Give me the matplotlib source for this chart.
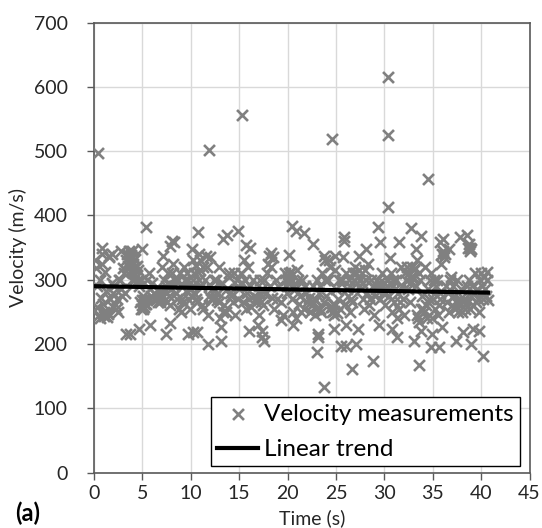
import numpy as np
import matplotlib
matplotlib.use("Agg")
import matplotlib.pyplot as plt

plt.rcParams['font.family'] = ['Lato', 'DejaVu Sans']

outliers = [(0.4, 498), (11.9, 502), (15.3, 557), (24.6, 519), (30.4, 616),
            (30.4, 526), (30.4, 414), (34.5, 457), (23.8, 133), (40.2, 181),
            (33.6, 167), (26.7, 161), (28.8, 174), (23.0, 188), (39.0, 200),
            (34.8, 195), (35.6, 195), (11.8, 200), (13.1, 205), (27.1, 200),
            (25.5, 197), (26.0, 197)]

upper = [(5.4, 382), (10.7, 375), (14.9, 376), (13.7, 369), (13.3, 364),
         (20.5, 383), (20.9, 376), (21.7, 372), (22.6, 356), (29.3, 382),
         (32.8, 380), (33.8, 368), (36.1, 364), (37.8, 366), (38.5, 370),
         (25.8, 367), (25.8, 360), (29.5, 359), (31.5, 359), (8.1, 361),
         (8.3, 359), (7.9, 352), (0.8, 349), (5.0, 348), (2.8, 344),
         (3.9, 344), (3.7, 337), (15.7, 354), (16.1, 349), (18.3, 342),
         (18.1, 337), (20.1, 338), (28.1, 348), (27.4, 337), (38.7, 356),
         (38.9, 350), (39.0, 348), (35.7, 359), (36.7, 348), (33.3, 348),
         (24.9, 337), (23.8, 337), (30.6, 334), (10.1, 348), (11.6, 337),
         (1.5, 337), (7.1, 337)]

lower = [(3.3, 216), (3.7, 216), (4.6, 224), (5.75, 230), (7.4, 216),
         (7.85, 232), (9.75, 216), (10.2, 218), (10.6, 219), (13.1, 227),
         (16.0, 221), (17.4, 221), (17.4, 211), (17.6, 205), (19.3, 238),
         (20.6, 230), (23.1, 216), (23.1, 211), (24.75, 224), (26.0, 230),
         (27.25, 224), (29.4, 230), (30.8, 224), (31.3, 211), (33.1, 205),
         (33.8, 221), (34.9, 216), (36.0, 227), (37.4, 205), (38.1, 219),
         (39.75, 221), (39.2, 224)]

band = [(0.0, 251), (0.1, 330), (0.2, 318), (0.3, 290), (0.5, 245), (0.6, 300),
        (0.7, 272), (0.8, 340), (0.9, 248), (0.95, 262),
        (1.0, 243), (1.1, 312), (1.2, 283), (1.3, 250), (1.4, 246), (1.6, 335),
        (1.7, 270), (1.9, 295), (1.95, 258),
        (2.0, 280), (2.2, 262), (2.3, 255), (2.5, 250), (2.6, 300), (2.8, 285),
        (2.9, 275),
        (3.0, 318), (3.1, 310), (3.3, 330), (3.5, 322), (3.6, 345), (3.7, 330),
        (3.8, 315), (3.9, 300), (3.95, 335),
        (4.0, 325), (4.1, 310), (4.2, 320), (4.3, 305), (4.4, 298), (4.5, 315),
        (4.6, 290), (4.8, 265), (4.9, 300),
        (5.0, 260), (5.1, 255), (5.2, 268), (5.3, 262), (5.5, 300), (5.7, 310),
        (5.8, 285), (5.9, 275),
        (6.0, 295), (6.2, 270), (6.4, 268), (6.5, 275), (6.6, 265), (6.8, 280),
        (6.9, 270),
        (7.0, 320), (7.2, 300), (7.3, 282), (7.5, 265), (7.6, 310), (7.8, 295),
        (7.9, 260),
        (8.0, 285), (8.2, 325), (8.4, 300), (8.6, 270), (8.8, 255), (8.9, 310),
        (9.0, 250), (9.2, 265), (9.3, 320), (9.5, 282), (9.7, 300), (9.8, 268),
        (9.9, 255),
        (10.0, 285), (10.1, 275), (10.2, 330), (10.3, 310), (10.4, 278),
        (10.5, 322), (10.6, 265), (10.8, 300), (10.9, 340),
        (11.0, 315), (11.1, 290), (11.2, 260), (11.3, 255), (11.5, 300),
        (11.7, 320), (11.8, 245), (11.9, 275),
        (12.0, 335), (12.2, 285), (12.3, 270), (12.5, 275), (12.6, 300),
        (12.8, 280), (12.9, 265),
        (13.0, 240), (13.2, 295), (13.4, 260), (13.6, 250), (13.7, 285),
        (13.9, 310),
        (14.0, 305), (14.2, 275), (14.4, 265), (14.6, 245), (14.8, 300),
        (14.9, 290),
        (15.0, 285), (15.2, 310), (15.4, 265), (15.5, 330), (15.7, 255),
        (15.8, 280), (15.9, 320),
        (16.0, 270), (16.2, 258), (16.4, 300), (16.5, 275), (16.7, 265),
        (16.9, 230),
        (17.0, 268), (17.1, 245), (17.2, 300), (17.4, 285), (17.5, 260),
        (17.7, 278), (17.9, 310),
        (18.0, 325), (18.2, 290), (18.4, 272), (18.6, 255), (18.8, 300),
        (18.9, 270),
        (19.0, 290), (19.3, 265), (19.5, 245), (19.7, 310), (19.9, 280),
        (20.0, 305), (20.1, 300), (20.2, 310), (20.3, 295), (20.5, 270),
        (20.6, 250), (20.8, 285), (20.9, 240),
        (21.0, 315), (21.2, 262), (21.3, 275), (21.5, 300), (21.7, 255),
        (21.9, 280),
        (22.0, 265), (22.2, 272), (22.3, 250), (22.5, 260), (22.6, 290),
        (22.8, 245), (22.9, 268),
        (23.0, 300), (23.2, 280), (23.4, 255), (23.6, 310), (23.8, 265),
        (23.9, 330),
        (24.0, 275), (24.2, 300), (24.4, 320), (24.5, 258), (24.6, 250),
        (24.7, 262), (24.8, 245), (24.9, 315),
        (25.0, 285), (25.2, 270), (25.4, 255), (25.6, 300), (25.7, 335),
        (25.9, 262),
        (26.0, 310), (26.2, 275), (26.4, 250), (26.5, 290), (26.7, 265),
        (26.9, 300),
        (27.0, 320), (27.2, 295), (27.3, 305), (27.5, 300), (27.6, 285),
        (27.8, 270), (27.9, 255),
        (28.0, 315), (28.2, 280), (28.4, 260), (28.6, 300), (28.8, 290),
        (28.9, 245),
        (29.0, 275), (29.2, 300), (29.3, 285), (29.5, 290), (29.6, 270),
        (29.8, 310), (29.9, 280),
        (30.0, 295), (30.1, 260), (30.2, 285), (30.4, 300), (30.5, 275),
        (30.7, 310), (30.8, 250), (30.9, 290),
        (31.0, 265), (31.2, 300), (31.4, 280), (31.5, 255), (31.7, 320),
        (31.9, 270),
        (32.0, 245), (32.2, 300), (32.4, 285), (32.5, 310), (32.7, 265),
        (32.9, 320),
        (33.0, 305), (33.1, 315), (33.3, 290), (33.4, 245), (33.5, 240),
        (33.6, 235), (33.7, 300), (33.9, 275),
        (34.0, 255), (34.2, 320), (34.3, 260), (34.5, 285), (34.7, 300),
        (34.9, 240),
        (35.0, 270), (35.2, 255), (35.4, 300), (35.5, 245), (35.7, 280),
        (35.9, 325),
        (36.0, 340), (36.1, 345), (36.2, 335), (36.4, 290), (36.5, 265),
        (36.7, 250), (36.9, 305),
        (37.0, 260), (37.2, 275), (37.3, 255), (37.5, 300), (37.7, 265),
        (37.9, 285),
        (38.0, 250), (38.2, 270), (38.4, 262), (38.5, 290), (38.7, 300),
        (38.9, 255),
        (39.0, 275), (39.2, 260), (39.4, 310), (39.6, 285), (39.8, 250),
        (39.9, 300),
        (40.0, 310), (40.2, 270), (40.3, 305), (40.5, 275), (40.6, 312),
        (40.7, 268)]

band_extra = [(3.4, 340), (3.6, 328), (3.8, 338), (4.0, 318), (4.2, 332),
              (4.4, 322), (4.1, 300), (3.9, 312), (4.9, 255), (5.0, 268),
              (5.2, 258), (5.4, 262), (5.1, 275), (6.3, 278), (6.6, 272),
              (6.8, 265), (7.0, 275), (6.7, 285), (0.6, 240), (1.0, 250),
              (1.3, 242), (0.3, 258), (0.8, 325), (1.9, 340), (9.9, 285),
              (10.1, 290), (10.3, 280), (10.5, 270), (10.2, 300), (10.7, 312),
              (11.0, 330), (11.3, 320), (12.1, 270), (12.4, 282), (12.7, 268),
              (12.4, 300), (12.9, 320), (13.3, 250), (14.1, 280), (14.5, 310),
              (14.9, 270), (15.3, 295), (15.6, 300), (16.1, 290), (16.8, 272),
              (17.1, 280), (17.3, 265), (17.6, 300), (18.3, 320), (18.5, 335),
              (19.8, 300), (20.0, 295), (20.2, 305), (20.4, 312), (20.7, 290),
              (21.1, 300), (21.4, 250), (21.8, 290), (22.4, 265), (22.7, 270),
              (22.9, 255), (23.3, 290), (23.5, 250), (23.9, 300), (24.6, 258),
              (24.8, 252), (24.9, 260), (25.1, 248), (24.3, 330), (25.3, 300),
              (26.1, 285), (26.3, 300), (26.6, 270), (26.8, 310), (27.1, 310),
              (27.4, 315), (27.7, 295), (28.1, 300), (28.3, 325), (28.5, 270),
              (29.1, 285), (29.4, 295), (29.7, 290), (30.0, 280), (30.3, 290),
              (30.6, 295), (30.9, 300), (31.1, 285), (31.3, 240), (31.6, 265),
              (31.8, 290), (32.1, 310), (32.3, 320), (32.6, 295), (32.8, 305),
              (33.2, 318), (33.4, 330), (33.6, 310), (33.8, 255), (34.1, 250),
              (34.4, 240), (34.6, 270), (34.8, 310), (35.1, 300), (35.3, 290),
              (35.6, 260), (35.8, 270), (36.3, 340), (36.6, 280), (36.8, 300),
              (37.1, 290), (37.4, 265), (37.6, 250), (37.8, 270), (38.1, 265),
              (38.3, 255), (38.6, 350), (38.8, 345), (39.1, 290), (39.3, 280),
              (39.5, 265), (39.7, 270), (40.1, 290), (40.4, 285), (40.6, 300),
              (7.4, 290), (7.7, 275), (8.1, 310), (8.3, 290), (8.5, 280),
              (8.7, 300), (9.1, 270), (9.4, 300), (9.6, 310), (2.1, 290),
              (2.4, 270), (2.7, 300), (3.2, 280)]

# linear trend end points
trend_t = [0.0, 40.7]
trend_v = [290, 280]

pts = np.array(band + band_extra + upper + lower + outliers)
time_s = pts[:, 0]
velocity = pts[:, 1]

fig = plt.figure(figsize=(5.42, 5.28), dpi=100)
ax = fig.add_axes([0.1734, 0.105, 0.8036, 0.852])

ax.scatter(time_s, velocity, marker='x', s=62, linewidths=1.9,
           color='#808080', label='Velocity measurements', zorder=3)
ax.plot(trend_t, trend_v, color='black', lw=3, label='Linear trend', zorder=4)

ax.set_xlim(0, 45)
ax.set_ylim(0, 700)
ax.set_xticks(np.arange(0, 46, 5))
ax.set_yticks(np.arange(0, 701, 100))
ax.grid(True, color='#d9d9d9', lw=1)
ax.set_axisbelow(True)
for s in ax.spines.values():
    s.set_color('#595959')
    s.set_linewidth(1.2)
ax.tick_params(direction='out', length=5, width=1, color='#595959',
               labelsize=14, labelcolor='#262626')
ax.tick_params(axis='x', pad=4)
ax.tick_params(axis='y', pad=14)
ax.set_xlabel('Time (s)', fontsize=14, color='#262626', labelpad=5)
ax.set_ylabel('Velocity (m/s)', fontsize=14, color='#262626', labelpad=5)

leg = ax.legend(loc='lower right', bbox_to_anchor=(0.978, 0.014),
                borderaxespad=0, fontsize=17.5, fancybox=False,
                edgecolor='black', framealpha=1, handlelength=1.7,
                handletextpad=0.25, labelspacing=0.6, borderpad=0.25)
leg.get_frame().set_linewidth(1.0)

fig.text(0.028, 0.014, '(a)', fontsize=17, fontweight='bold')

fig.savefig('out.png', dpi=100)
